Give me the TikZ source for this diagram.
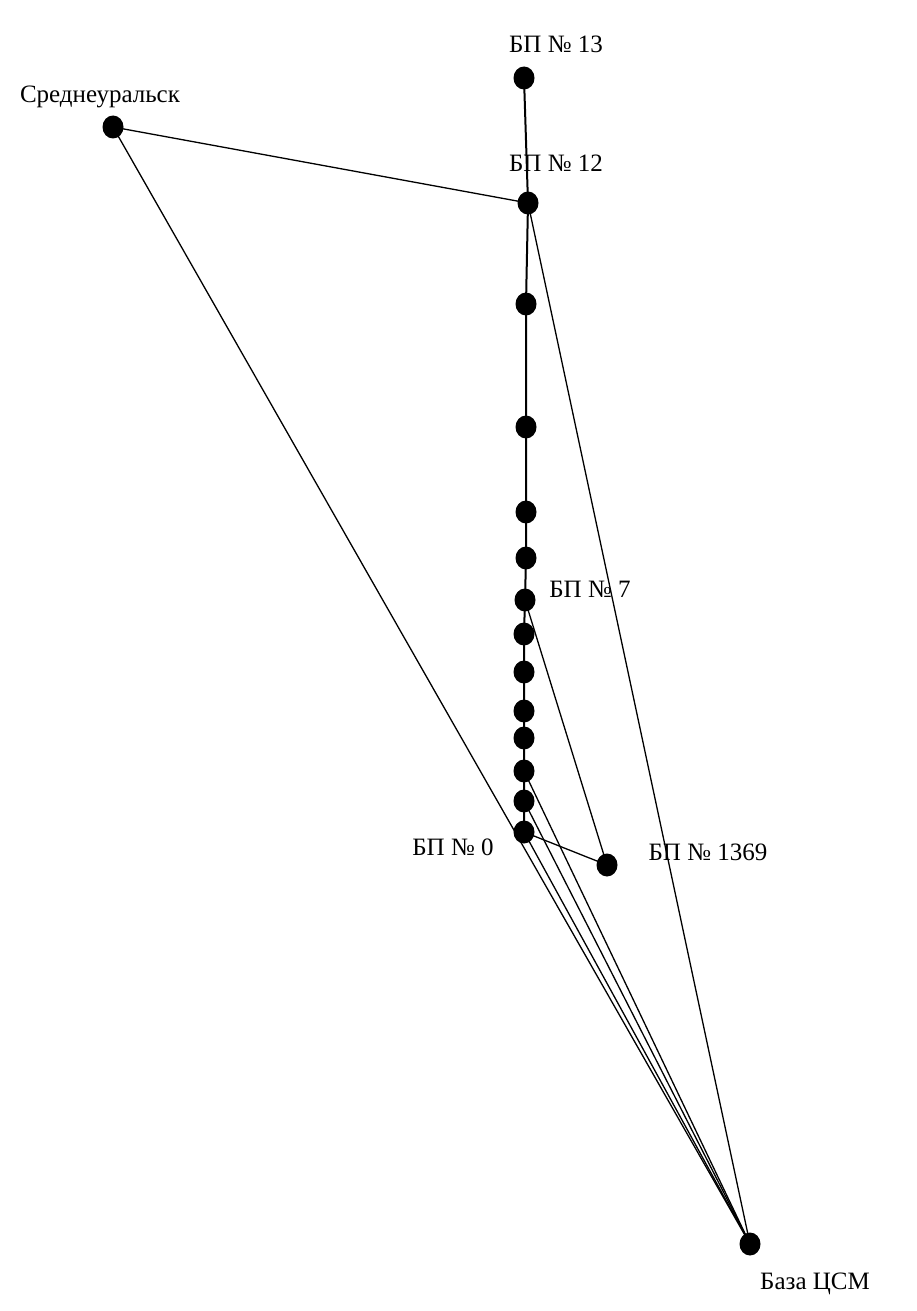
\documentclass[tikz,border=0pt]{standalone}
\usepackage{fontspec}
\setmainfont{Liberation Serif}
\begin{document}
\begin{tikzpicture}[x=1pt,y=-1pt,
  dot/.style={circle,inner sep=0pt,minimum size=22pt},
  lbl/.style={font=\fontsize{25}{29}\selectfont,inner sep=0pt,anchor=center},
  edge/.style={line width=1.3pt},
  chain/.style={line width=2pt}]
\useasboundingbox (0,0) rectangle (916,1311);
\node[dot] (sr) at (113,127) {};
\node[dot] (b13) at (524,78) {};
\node[dot] (b12) at (528,203) {};
\node[dot] (n3) at (526,304) {};
\node[dot] (n4) at (526,427) {};
\node[dot] (n5) at (526,512) {};
\node[dot] (n6) at (526,558) {};
\node[dot] (b7) at (525,600) {};
\node[dot] (n8) at (524,634) {};
\node[dot] (n9) at (524,672) {};
\node[dot] (n10) at (524,711) {};
\node[dot] (n11) at (524,738) {};
\node[dot] (n12) at (524,771) {};
\node[dot] (n13) at (524,801) {};
\node[dot] (b0) at (524,832) {};
\node[dot] (b1369) at (607,865) {};
\node[dot] (base) at (750,1244) {};

\node[lbl] (lsr) at (100,97) {Среднеуральск};
\node[lbl] (l13) at (556,44) {БП № 13};
\node[lbl] (l12) at (556,163) {БП № 12};
\node[lbl] (l7) at (590,589) {БП № 7};
\node[lbl] (l0) at (453,847) {БП № 0};
\node[lbl] (l1369) at (708,852) {БП № 1369};
\node[lbl] (lbase) at (815,1284) {База ЦСМ};

\draw[chain] (b13.center) -- (b12.center) -- (n3.center) -- (n4.center) -- (n5.center) -- (n6.center) -- (b7.center) -- (n8.center) -- (n9.center) -- (n10.center) -- (n11.center) -- (n12.center) -- (n13.center) -- (b0.center);
\draw[edge] (sr.center) -- (b12.center);
\draw[edge] (sr.center) -- (base.center);
\draw[edge] (b12.center) -- (base.center);
\draw[edge] (b7.center) -- (b1369.center);
\draw[edge] (b0.center) -- (b1369.center);
\draw[edge] (b0.center) -- (base.center);
\draw[edge] (n13.center) -- (base.center);
\draw[edge] (n12.center) -- (base.center);
\foreach \n in {sr,b13,b12,n3,n4,n5,n6,b7,n8,n9,n10,n11,n12,n13,b0,b1369,base}
  \fill (\n) ellipse [x radius=10.5pt, y radius=11.5pt];
\end{tikzpicture}
\end{document}
